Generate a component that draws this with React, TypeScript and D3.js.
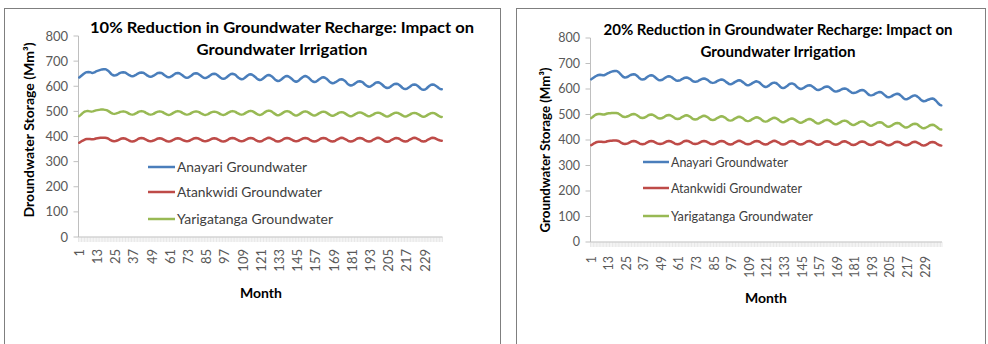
import React from "react";
import * as d3 from "d3";

const MONTHS: number[] = Array.from({ length: 240 }, (_, i) => i + 1);
const X_TICK_LABELS = ["1", "13", "25", "37", "49", "61", "73", "85", "97", "109", "121", "133", "145", "157", "169", "181", "193", "205", "217", "229"];
const Y_TICKS = [0, 100, 200, 300, 400, 500, 600, 700, 800];
const SERIES_NAMES = ["Anayari Groundwater", "Atankwidi Groundwater", "Yarigatanga Groundwater"];
const SERIES_COLORS = ["#4a7ebb", "#be4b48", "#98b954"];

// 10% reduction scenario
const L_ANAYARI = [
  635, 640, 645, 650, 654, 656, 657, 656, 654, 653, 655, 659,
  661, 663, 665, 667, 668, 668, 666, 662, 656, 649, 645, 643,
  644, 646, 650, 653, 655, 656, 655, 652, 648, 644, 641, 640,
  641, 644, 648, 651, 654, 655, 654, 651, 647, 642, 639, 638,
  639, 642, 646, 650, 653, 654, 653, 650, 645, 641, 637, 636,
  637, 640, 645, 649, 652, 653, 652, 648, 644, 639, 635, 634,
  635, 639, 643, 648, 651, 652, 651, 647, 643, 638, 634, 633,
  634, 637, 642, 646, 649, 650, 649, 645, 640, 635, 631, 630,
  631, 635, 640, 645, 649, 650, 648, 645, 639, 634, 630, 628,
  629, 633, 638, 643, 647, 648, 646, 642, 637, 631, 627, 625,
  626, 630, 635, 640, 644, 645, 643, 639, 633, 627, 623, 621,
  622, 626, 631, 636, 640, 641, 639, 635, 630, 624, 620, 618,
  620, 624, 630, 635, 639, 641, 639, 635, 629, 623, 619, 617,
  618, 622, 627, 631, 635, 636, 634, 630, 624, 618, 614, 612,
  613, 616, 620, 624, 627, 628, 626, 622, 616, 609, 605, 603,
  604, 607, 612, 616, 619, 620, 618, 615, 609, 604, 600, 598,
  599, 603, 607, 612, 615, 616, 614, 610, 605, 599, 595, 593,
  594, 597, 602, 606, 609, 610, 609, 605, 600, 594, 590, 589,
  590, 594, 598, 603, 606, 607, 606, 602, 597, 591, 587, 586,
  587, 591, 597, 602, 606, 607, 606, 602, 598, 593, 589, 588,
];
const L_ATANKWIDI = [
  375, 379, 383, 386, 389, 390, 390, 390, 389, 389, 390, 392,
  393, 394, 395, 395, 395, 395, 394, 392, 388, 385, 382, 381,
  382, 384, 387, 390, 392, 393, 392, 390, 387, 383, 381, 380,
  381, 384, 387, 391, 393, 394, 393, 391, 388, 384, 382, 381,
  382, 384, 387, 390, 392, 393, 392, 390, 387, 383, 381, 380,
  381, 383, 387, 390, 392, 393, 392, 390, 387, 384, 382, 381,
  382, 384, 388, 391, 393, 394, 393, 391, 388, 384, 382, 381,
  382, 384, 387, 390, 392, 393, 392, 390, 387, 383, 381, 380,
  381, 384, 387, 391, 393, 394, 393, 391, 388, 384, 382, 381,
  382, 384, 388, 391, 393, 394, 393, 391, 387, 384, 381, 380,
  381, 384, 388, 391, 394, 395, 394, 391, 388, 384, 381, 380,
  381, 384, 387, 391, 393, 394, 393, 391, 388, 384, 382, 381,
  382, 384, 388, 391, 393, 394, 393, 391, 387, 384, 381, 380,
  381, 384, 387, 391, 393, 394, 393, 391, 387, 384, 381, 380,
  381, 384, 388, 391, 394, 395, 394, 391, 388, 384, 381, 380,
  381, 384, 387, 391, 393, 394, 393, 391, 387, 384, 381, 380,
  381, 384, 388, 391, 394, 395, 394, 391, 387, 383, 380, 379,
  380, 383, 387, 390, 393, 394, 393, 391, 387, 384, 381, 380,
  381, 384, 388, 391, 394, 395, 394, 391, 388, 384, 381, 380,
  381, 384, 388, 391, 394, 395, 394, 392, 389, 386, 384, 383,
];
const L_YARIGATANGA = [
  481, 486, 492, 497, 500, 501, 501, 500, 499, 500, 502, 504,
  505, 506, 507, 507, 507, 506, 505, 502, 498, 494, 491, 490,
  491, 493, 495, 498, 499, 500, 499, 497, 494, 490, 488, 487,
  488, 491, 494, 498, 500, 501, 500, 498, 494, 491, 488, 487,
  488, 490, 494, 497, 499, 500, 499, 497, 493, 490, 487, 486,
  487, 490, 494, 497, 500, 501, 500, 498, 494, 491, 488, 487,
  488, 490, 494, 497, 499, 500, 499, 497, 493, 490, 487, 486,
  487, 489, 493, 496, 498, 499, 498, 496, 493, 489, 487, 486,
  487, 490, 494, 497, 500, 501, 500, 498, 494, 491, 488, 487,
  488, 491, 495, 498, 501, 502, 501, 498, 494, 490, 487, 486,
  487, 490, 495, 499, 502, 503, 502, 499, 494, 490, 486, 485,
  486, 489, 493, 497, 500, 501, 500, 497, 493, 488, 485, 484,
  485, 488, 492, 496, 499, 500, 499, 496, 492, 488, 485, 484,
  485, 488, 492, 495, 498, 499, 498, 495, 491, 487, 484, 483,
  484, 487, 490, 494, 496, 497, 496, 493, 489, 485, 482, 481,
  482, 485, 489, 492, 495, 496, 495, 492, 489, 485, 482, 481,
  482, 485, 488, 492, 494, 495, 494, 491, 488, 484, 481, 480,
  481, 484, 488, 491, 494, 495, 494, 491, 488, 484, 481, 480,
  481, 484, 487, 491, 493, 494, 493, 490, 487, 483, 480, 479,
  480, 483, 487, 490, 493, 494, 493, 490, 486, 482, 479, 478,
];

// 20% reduction scenario
const R_ANAYARI = [
  638, 642, 646, 650, 653, 655, 656, 655, 654, 654, 657, 661,
  663, 666, 668, 670, 671, 671, 669, 665, 658, 652, 647, 645,
  646, 648, 652, 655, 657, 658, 657, 653, 648, 642, 638, 637,
  638, 641, 646, 650, 653, 654, 653, 649, 644, 639, 635, 634,
  635, 638, 642, 646, 649, 650, 649, 646, 641, 637, 633, 632,
  633, 635, 639, 642, 644, 645, 644, 641, 637, 632, 629, 628,
  629, 631, 635, 638, 640, 641, 640, 637, 633, 628, 625, 624,
  625, 627, 631, 634, 636, 637, 636, 633, 628, 624, 620, 619,
  620, 623, 627, 630, 633, 634, 633, 629, 625, 620, 616, 615,
  616, 619, 623, 626, 629, 630, 628, 625, 619, 614, 610, 608,
  609, 612, 617, 621, 624, 625, 624, 620, 615, 609, 605, 604,
  605, 609, 613, 618, 621, 622, 620, 617, 611, 606, 602, 600,
  601, 604, 608, 611, 614, 615, 614, 610, 606, 601, 597, 596,
  597, 600, 603, 607, 609, 610, 609, 605, 600, 595, 591, 590,
  591, 593, 596, 599, 601, 602, 601, 598, 593, 589, 585, 584,
  585, 587, 590, 593, 595, 596, 595, 591, 586, 580, 576, 575,
  576, 578, 582, 585, 587, 588, 587, 583, 578, 573, 569, 568,
  569, 571, 575, 578, 580, 581, 580, 576, 571, 565, 561, 560,
  561, 564, 568, 571, 574, 575, 573, 569, 564, 558, 554, 552,
  553, 555, 558, 560, 562, 563, 561, 556, 550, 543, 538, 536,
];
const R_ATANKWIDI = [
  380, 383, 387, 390, 392, 393, 393, 393, 392, 392, 393, 395,
  396, 397, 397, 398, 398, 398, 397, 395, 391, 388, 385, 384,
  385, 387, 390, 393, 395, 396, 395, 393, 390, 386, 384, 383,
  384, 386, 390, 393, 395, 396, 395, 393, 390, 387, 385, 384,
  385, 387, 390, 393, 395, 396, 395, 393, 390, 386, 384, 383,
  384, 387, 390, 394, 396, 397, 396, 394, 391, 387, 385, 384,
  385, 387, 390, 393, 395, 396, 395, 393, 390, 386, 384, 383,
  384, 386, 390, 393, 395, 396, 395, 393, 389, 386, 383, 382,
  383, 386, 390, 393, 396, 397, 396, 393, 390, 386, 384, 383,
  384, 386, 390, 393, 395, 396, 395, 393, 389, 386, 383, 382,
  383, 386, 390, 393, 396, 397, 396, 393, 390, 386, 383, 382,
  383, 386, 389, 393, 395, 396, 395, 393, 389, 386, 383, 382,
  383, 386, 389, 393, 395, 396, 395, 392, 389, 385, 382, 381,
  382, 385, 388, 392, 394, 395, 394, 392, 388, 385, 382, 381,
  382, 385, 388, 392, 394, 395, 394, 391, 388, 384, 381, 380,
  381, 384, 387, 391, 393, 394, 393, 391, 387, 384, 381, 380,
  381, 384, 387, 391, 393, 394, 393, 390, 387, 383, 380, 379,
  380, 383, 386, 390, 392, 393, 392, 390, 386, 383, 380, 379,
  380, 383, 386, 390, 392, 393, 392, 389, 386, 382, 379, 378,
  379, 382, 385, 389, 391, 392, 391, 389, 385, 382, 379, 378,
];
const R_YARIGATANGA = [
  486, 490, 495, 499, 501, 502, 502, 501, 500, 500, 502, 504,
  505, 505, 506, 506, 506, 506, 505, 502, 498, 494, 491, 490,
  491, 493, 496, 499, 501, 502, 501, 498, 494, 490, 487, 486,
  487, 490, 493, 497, 499, 500, 499, 496, 492, 488, 485, 484,
  485, 488, 491, 495, 497, 498, 497, 494, 490, 486, 483, 482,
  483, 486, 490, 493, 496, 497, 496, 493, 489, 484, 481, 480,
  481, 484, 488, 491, 494, 495, 494, 491, 487, 482, 479, 478,
  479, 482, 486, 489, 492, 493, 492, 489, 485, 480, 477, 476,
  477, 480, 484, 487, 490, 491, 490, 487, 483, 478, 475, 474,
  475, 478, 482, 485, 488, 489, 488, 485, 481, 476, 473, 472,
  473, 476, 480, 483, 486, 487, 486, 483, 479, 474, 471, 470,
  471, 474, 477, 481, 483, 484, 483, 480, 476, 472, 469, 468,
  469, 472, 475, 479, 481, 482, 481, 478, 474, 469, 466, 465,
  466, 469, 472, 476, 478, 479, 478, 475, 471, 466, 463, 462,
  463, 466, 469, 473, 475, 476, 475, 472, 468, 463, 460, 459,
  460, 463, 466, 470, 472, 473, 472, 469, 465, 460, 457, 456,
  457, 460, 463, 467, 469, 470, 469, 466, 461, 457, 453, 452,
  453, 456, 460, 463, 466, 467, 466, 463, 458, 454, 450, 449,
  450, 453, 457, 460, 463, 464, 463, 460, 455, 451, 447, 446,
  447, 450, 453, 457, 459, 460, 459, 455, 451, 446, 442, 441,
];

const FONT = "Lato, 'Open Sans', 'DejaVu Sans', sans-serif";

type Cfg = {
  frame: [number, number, number, number];
  x0: number; x1: number; yZero: number; yTop: number;
  yLabelX: number; tickFont: number;
  title: [string, string]; titleCx: number; titleY: [number, number]; titleLen: [number, number]; titleFont: number;
  yTitle: string; yTitleX: number; yTitleCy: number; yTitleLen: number; yTitleFont: number;
  legX0: number; legX1: number; legTextX: number; legYs: number[]; legLens: number[]; legFont: number;
  xLabelTop: number; monthCx: number; monthY: number; monthFont: number;
};

function Chart({ cfg, data }: { cfg: Cfg; data: number[][] }) {
  const x = d3.scaleBand<number>().domain(MONTHS).range([cfg.x0, cfg.x1]).padding(0);
  const y = d3.scaleLinear().domain([0, 800]).range([cfg.yZero, cfg.yTop]);
  const bw = x.bandwidth();
  const line = d3
    .line<number>()
    .x((_, i) => (x(MONTHS[i]) as number) + bw / 2)
    .y((d) => y(d));
  const tickXs = MONTHS.map((m) => x(m) as number).concat([cfg.x1]);
  const [fx, fy, fw, fh] = cfg.frame;
  return (
    <g>
      <rect x={fx} y={fy} width={fw} height={fh} fill="#fff" stroke="#7f7f7f" strokeWidth={1} />
      {cfg.title.map((t, i) => (
        <text key={i} x={cfg.titleCx} y={cfg.titleY[i]} textAnchor="middle" fontFamily={FONT}
          fontWeight="bold" fontSize={cfg.titleFont} fill="#000" textLength={cfg.titleLen[i]}
          lengthAdjust="spacingAndGlyphs">{t}</text>
      ))}
      {/* y axis */}
      <line x1={cfg.x0} x2={cfg.x0} y1={y(0)} y2={y(800)} stroke="#bfbfbf" strokeWidth={1} />
      {Y_TICKS.map((v) => (
        <g key={v}>
          <line x1={cfg.x0 - 5} x2={cfg.x0} y1={y(v)} y2={y(v)} stroke="#bfbfbf" strokeWidth={1} />
          <text x={cfg.yLabelX} y={y(v)} dy="0.35em" textAnchor="end" fontFamily={FONT}
            fontSize={cfg.tickFont} fill="#595959">{v}</text>
        </g>
      ))}
      {/* x axis */}
      <line x1={cfg.x0} x2={cfg.x1} y1={y(0)} y2={y(0)} stroke="#bfbfbf" strokeWidth={1} />
      {tickXs.map((tx, i) => (
        <line key={i} x1={tx} x2={tx} y1={y(0)} y2={y(0) + 5} stroke="#d0d0d0" strokeWidth={0.5} />
      ))}
      {X_TICK_LABELS.map((lab) => {
        const m = +lab;
        const cx = (x(m) as number) + bw / 2;
        return (
          <text key={lab} transform={`translate(${cx},${cfg.xLabelTop}) rotate(-90)`} dy="0.35em"
            textAnchor="end" fontFamily={FONT} fontSize={cfg.tickFont} fill="#595959">{lab}</text>
        );
      })}
      <text x={cfg.monthCx} y={cfg.monthY} textAnchor="middle" fontFamily={FONT} fontWeight="bold"
        fontSize={cfg.monthFont} fill="#000">Month</text>
      <text transform={`translate(${cfg.yTitleX},${cfg.yTitleCy}) rotate(-90)`} dy="0.35em"
        textAnchor="middle" fontFamily={FONT} fontWeight="bold" fontSize={cfg.yTitleFont} fill="#000"
        textLength={cfg.yTitleLen} lengthAdjust="spacingAndGlyphs">{cfg.yTitle}</text>
      {/* series */}
      {data.map((s, i) => (
        <path key={i} d={line(s) || ""} fill="none" stroke={SERIES_COLORS[i]} strokeWidth={2.5}
          strokeLinejoin="round" strokeLinecap="round" />
      ))}
      {/* legend */}
      {SERIES_NAMES.map((n, i) => (
        <g key={n}>
          <line x1={cfg.legX0} x2={cfg.legX1} y1={cfg.legYs[i]} y2={cfg.legYs[i]} stroke={SERIES_COLORS[i]} strokeWidth={2.5} />
          <text x={cfg.legTextX} y={cfg.legYs[i]} dy="0.35em" fontFamily={FONT} fontSize={cfg.legFont}
            fill="#404040" textLength={cfg.legLens[i]} lengthAdjust="spacingAndGlyphs">{n}</text>
        </g>
      ))}
    </g>
  );
}

const LEFT: Cfg = {
  frame: [4.5, 8.5, 496, 400],
  x0: 78.5, x1: 442.5, yZero: 237, yTop: 36,
  yLabelX: 68, tickFont: 13,
  title: ["10% Reduction in Groundwater Recharge: Impact on", "Groundwater Irrigation"],
  titleCx: 282, titleY: [33, 55], titleLen: [384, 171], titleFont: 16,
  yTitle: "Droundwater Storage (Mm³)", yTitleX: 29, yTitleCy: 130, yTitleLen: 175, yTitleFont: 14,
  legX0: 148, legX1: 175, legTextX: 177, legYs: [167, 192, 219], legLens: [130, 145, 156], legFont: 14,
  xLabelTop: 249, monthCx: 261, monthY: 298, monthFont: 14,
};

const RIGHT: Cfg = {
  frame: [516.5, 8.5, 469, 400],
  x0: 590.5, x1: 942, yZero: 242, yTop: 38,
  yLabelX: 580, tickFont: 12.5,
  title: ["20% Reduction in Groundwater Recharge: Impact on", "Groundwater Irrigation"],
  titleCx: 778, titleY: [35, 57], titleLen: [349, 155], titleFont: 15,
  yTitle: "Groundwater Storage (Mm³)", yTitleX: 545, yTitleCy: 150, yTitleLen: 165, yTitleFont: 13.5,
  legX0: 643, legX1: 669, legTextX: 671, legYs: [162, 188, 216], legLens: [117, 131, 142], legFont: 13,
  xLabelTop: 256, monthCx: 766, monthY: 303, monthFont: 14,
};

export default function App() {
  return (
    <svg width={988} height={344} style={{ position: "absolute", left: 0, top: 0, background: "#fff" }}>
      <rect x={0} y={0} width={988} height={344} fill="#fff" />
      <Chart cfg={LEFT} data={[L_ANAYARI, L_ATANKWIDI, L_YARIGATANGA]} />
      <Chart cfg={RIGHT} data={[R_ANAYARI, R_ATANKWIDI, R_YARIGATANGA]} />
    </svg>
  );
}
